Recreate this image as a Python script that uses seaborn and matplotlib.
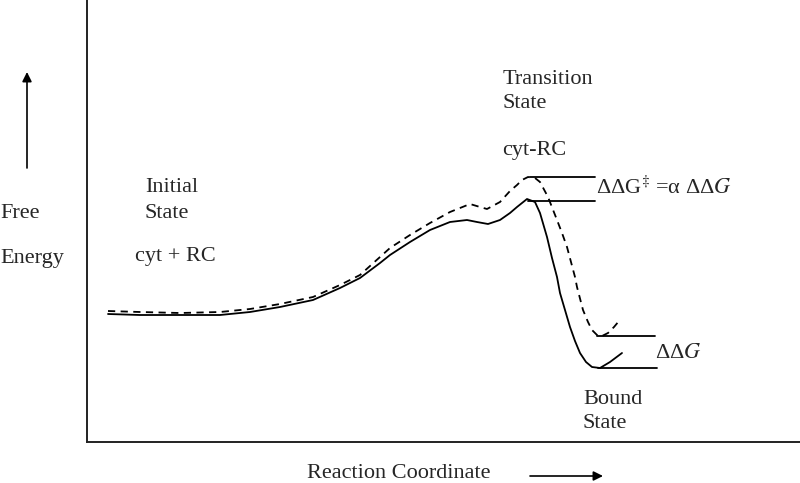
import numpy as np
import pandas as pd
import seaborn as sns
import matplotlib.pyplot as plt

# ------------------------------
# Curve data (x = reaction coordinate, y = free energy height)
# ------------------------------
solid_x = [108, 140, 180, 220, 250, 280, 313, 340, 360, 380, 390, 410, 430, 450, 467,
           477, 488, 500, 510, 517, 527, 535, 540, 547, 552, 557, 560, 565, 570, 575,
           580, 586, 592, 600, 610, 622]
solid_y = [128, 127, 127, 127, 130, 135, 142, 154, 164, 179, 187, 200, 212, 220, 222,
           220, 218, 222, 229, 235, 243, 240, 229, 205, 184, 165, 149, 132, 115, 101,
           89, 80, 75, 74, 80, 89]

dashed_x = [108, 140, 180, 220, 250, 280, 313, 340, 360, 380, 390, 410, 430, 450, 470,
            480, 487, 500, 510, 517, 522, 528, 535, 540, 548, 557, 562, 567, 575, 577,
            583, 588, 592, 598, 602, 608, 614, 619]
dashed_y = [131, 130, 129, 130, 133, 138, 145, 157, 167, 185, 194, 207, 219, 230, 238,
            235, 233, 240, 251, 257, 262, 265, 264, 260, 245, 222, 209, 195, 165, 155,
            132, 120, 112, 106, 106, 109, 115, 121]

# reference lines marking the energy differences
ts_levels = [265, 241]
ts_x = [[530, 595], [528, 595]]
bound_levels = [106, 74]
bound_x = [[597, 655], [598, 657]]

df = pd.concat([
    pd.DataFrame({"x": solid_x, "G": solid_y, "curve": "solid"}),
    pd.DataFrame({"x": dashed_x, "G": dashed_y, "curve": "dashed"}),
])

sns.set_style("white")
plt.rcParams["font.family"] = ["Liberation Serif", "DejaVu Serif"]
plt.rcParams["mathtext.fontset"] = "stix"

fig = plt.figure(figsize=(8, 4.83), dpi=100)
ax = fig.add_axes([87 / 800, 41 / 483, 713 / 800, 442 / 483])

sns.lineplot(data=df, x="x", y="G", style="curve", color="black", linewidth=1.3,
             dashes={"solid": "", "dashed": (4, 3)}, sort=False,
             estimator=None, legend=False, ax=ax)

for lvl, (x0, x1) in zip(ts_levels, ts_x):
    ax.plot([x0, x1], [lvl, lvl], color="black", lw=1.3)
for lvl, (x0, x1) in zip(bound_levels, bound_x):
    ax.plot([x0, x1], [lvl, lvl], color="black", lw=1.3)

ax.set_xlim(87, 800)
ax.set_ylim(0, 442)
ax.set_xticks([])
ax.set_yticks([])
ax.set_xlabel("")
ax.set_ylabel("")
for s in ["top", "right"]:
    ax.spines[s].set_visible(False)
for s in ["left", "bottom"]:
    ax.spines[s].set_color("#222222")
    ax.spines[s].set_linewidth(1.4)

fs = 16


def lab(x, y, s, **kw):
    # position given in picture pixel rows, converted to energy height
    ax.text(x, 442 - y, s, fontsize=fs, va="center", ha="left", clip_on=False, **kw)


lab(503, 80, "Transition")
lab(503, 103, "State")
lab(502, 151, "cyt-RC")
lab(145, 188, "Initial")
lab(145, 213, "State")
lab(135, 257, "cyt + RC")
lab(0, 213, "Free")
lab(0, 258, "Energy")
lab(583, 400, "Bound")
lab(583, 423, "State")
lab(596, 188, r"ΔΔG$^{\ddagger}$ =α ΔΔ$G$")
lab(655, 353, r"ΔΔ$G$")
lab(307, 474, "Reaction Coordinate")

ax.annotate("", xy=(27, 442 - 72), xytext=(27, 442 - 168), annotation_clip=False,
            arrowprops=dict(arrowstyle="-|>", color="black", lw=1.2,
                            mutation_scale=14, shrinkA=0, shrinkB=0))
ax.annotate("", xy=(603, 442 - 476), xytext=(530, 442 - 476), annotation_clip=False,
            arrowprops=dict(arrowstyle="-|>", color="black", lw=1.2,
                            mutation_scale=14, shrinkA=0, shrinkB=0))

fig.savefig("out.png", dpi=100)
